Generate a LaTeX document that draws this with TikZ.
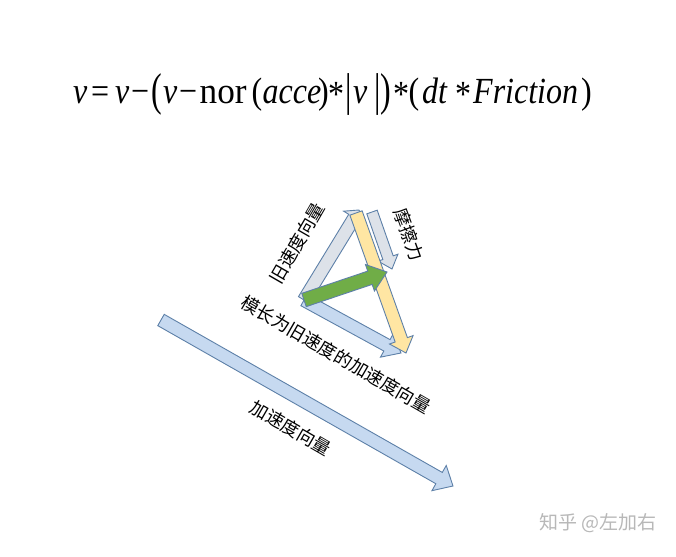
\documentclass[tikz,border=0pt]{standalone}
\usepackage{fontspec}
\usepackage{graphicx}
\setmainfont{Liberation Serif}
\newfontfamily\cjk{Noto Sans CJK SC}
\usetikzlibrary{calc}
\definecolor{bluefill}{HTML}{C6D9F0}
\definecolor{greyfill}{HTML}{DDE2E9}
\definecolor{yellowfill}{HTML}{FFE6A3}
\definecolor{greenfill}{HTML}{70AD47}
\definecolor{edgeblue}{HTML}{5D80A8}
\definecolor{wmgrey}{HTML}{B8B8B8}
\newcommand{\blockarrow}[6]{%
  \path[#1] let \p1=($(#3)-(#2)$), \n1={atan2(\y1,\x1)}, \n2={veclen(\x1,\y1)} in
    [shift={(#2)}, rotate=\n1]
    (0pt,-#4/2) -- ({\n2-#6},-#4/2) -- ({\n2-#6},-#5/2) -- ({\n2},0pt)
    -- ({\n2-#6},#5/2) -- ({\n2-#6},#4/2) -- (0pt,#4/2) -- cycle;}
\newcommand{\bigp}[1]{\raisebox{-1.5pt}{\scalebox{1}[1.25]{#1}}}
\newcommand{\at}[2]{\rlap{\hspace*{#1pt}#2}}
\newcommand{\fstar}{\raisebox{-2.5pt}{*}}
\begin{document}
\begin{tikzpicture}[x=1pt,y=-1pt,
  barrow/.style={draw=edgeblue, line width=0.9pt, line join=miter},
  lbl/.style={font=\cjk\fontsize{18}{18}\selectfont, inner sep=0pt}]
\useasboundingbox[fill=white] (0,0) rectangle (676,556);
% named coordinates
\coordinate (O) at (304,300);
\coordinate (bigA) at (161,320);
\coordinate (bigB) at (453,486);
\coordinate (accB) at (401,353);
\coordinate (oldB) at (359,210);
\coordinate (yelA) at (356,213);
\coordinate (yelB) at (406,353);
\coordinate (frA) at (372,212);
\coordinate (frB) at (392,269);
\coordinate (grB) at (387,272);
% arrows
\blockarrow{barrow, fill=bluefill}{bigA}{bigB}{13pt}{29pt}{16pt}
\blockarrow{barrow, fill=bluefill}{O}{accB}{13pt}{27pt}{16pt}
\blockarrow{barrow, fill=greyfill}{O}{oldB}{13pt}{25pt}{9pt}
\blockarrow{barrow, fill=greyfill}{frA}{frB}{11pt}{21pt}{12pt}
\blockarrow{barrow, fill=yellowfill}{yelA}{yelB}{13pt}{25pt}{14pt}
\blockarrow{barrow, fill=greenfill}{O}{grB}{14pt}{28pt}{18pt}
% labels
\node[lbl, rotate=60] (lold) at (297,243) {旧速度向量};
\node[lbl, rotate=-70] (lfr) at (409,235) {摩擦力};
\node[lbl, rotate=-30] (lacc) at (336,355) {模长为旧速度的加速度向量};
\node[lbl, rotate=-30] (lbig) at (291,428) {加速度向量};
% formula
\node[anchor=base west, inner sep=0pt] (formula) at (73,104)
 {\scalebox{1}[1.15]{\fontsize{32}{32}\selectfont
  \at{0}{\textit{v}}\at{18}{=}\at{42}{\textit{v}}\at{58}{−}\at{78.5}{\bigp{(}}%
  \at{90}{\textit{v}}\at{106}{−}\at{126.5}{\scalebox{1.1}[1]{nor}}\at{178.5}{(}\at{189.5}{\textit{acce}}%
  \at{245}{)}\at{255}{\fstar}\at{272.5}{\bigp{|}}\at{280}{\textit{v}}\at{301.5}{\bigp{|}}%
  \at{307.5}{\bigp{)}}\at{320}{\fstar}\at{335.5}{(}\at{349}{\textit{dt}}\at{382}{\fstar}%
  \at{400}{\textit{Friction}}\at{508}{)}\hspace*{518pt}}};
% watermark
\node[font=\cjk\fontsize{19}{19}\selectfont, text=wmgrey, anchor=west, inner sep=0pt] (wm) at (539,523) {知乎 @左加右};
\end{tikzpicture}
\end{document}
